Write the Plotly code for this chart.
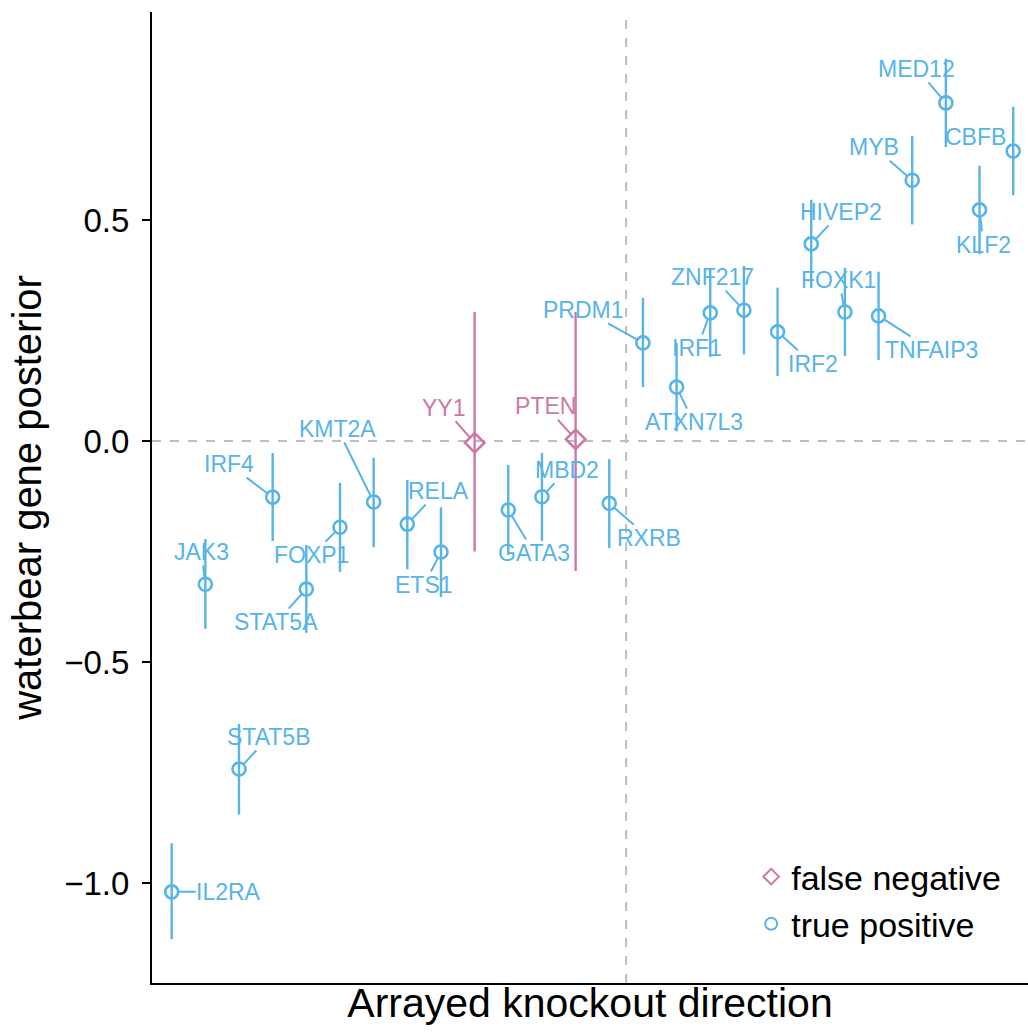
import plotly.graph_objects as go

# Genes in arrayed-knockout order, with posterior means and interval bounds
genes = ["IL2RA", "JAK3", "STAT5B", "IRF4", "STAT5A", "FOXP1", "KMT2A", "RELA", "ETS1",
         "YY1", "GATA3", "MBD2", "PTEN", "RXRB", "PRDM1", "ATXN7L3", "IRF1", "ZNF217",
         "IRF2", "HIVEP2", "FOXK1", "TNFAIP3", "MYB", "MED12", "KLF2", "CBFB"]
posterior = [-1.02, -0.324, -0.742, -0.127, -0.335, -0.195, -0.138, -0.188, -0.251,
             -0.004, -0.156, -0.126, 0.004, -0.141, 0.222, 0.122, 0.290, 0.296,
             0.247, 0.446, 0.292, 0.283, 0.590, 0.765, 0.523, 0.656]
lower = [-1.127, -0.425, -0.845, -0.226, -0.434, -0.296, -0.240, -0.290, -0.353,
         -0.250, -0.258, -0.226, -0.294, -0.242, 0.122, 0.022, 0.190, 0.196,
         0.147, 0.346, 0.192, 0.183, 0.490, 0.665, 0.423, 0.556]
upper = [-0.910, -0.222, -0.640, -0.027, -0.235, -0.095, -0.038, -0.088, -0.150,
         0.292, -0.054, -0.027, 0.292, -0.041, 0.324, 0.222, 0.390, 0.396,
         0.347, 0.546, 0.392, 0.383, 0.690, 0.865, 0.623, 0.756]
status = ["true positive"] * 9 + ["false negative"] + ["true positive"] * 2 + \
         ["false negative"] + ["true positive"] * 13

# Label offsets (pixels, label centre relative to point) for repelled text
label_dx = [57, -4, 30, -44, -30, -28, -36, 31, -17, -31, 26, 25, -30, 40, -59, 17,
            -13, -31, 35, 30, -6, 53, -38, -29, 4, -38]
label_dy = [0, -32, -32, -33, 33, 28, -73, -33, 33, -35, 43, -27, -33, 35, -33, 35,
            35, -33, 32, -32, -32, 34, -33, -34, 35, -14]

colors = {"false negative": "#CC79A7", "true positive": "#56B4E9"}
symbols = {"false negative": "diamond-open", "true positive": "circle-open"}
sizes = {"false negative": 15, "true positive": 13}

xpos = list(range(1, len(genes) + 1))
FONT = "Liberation Sans, Arial, Helvetica, sans-serif"

fig = go.Figure()
for grp in ["false negative", "true positive"]:
    idx = [i for i, s in enumerate(status) if s == grp]
    fig.add_trace(go.Scatter(
        x=[xpos[i] for i in idx],
        y=[posterior[i] for i in idx],
        mode="markers",
        name=grp,
        marker=dict(symbol=symbols[grp], size=sizes[grp], color=colors[grp],
                    line=dict(width=2.6, color=colors[grp])),
        error_y=dict(type="data", symmetric=False,
                     array=[upper[i] - posterior[i] for i in idx],
                     arrayminus=[posterior[i] - lower[i] for i in idx],
                     width=0, thickness=2.4, color=colors[grp]),
        text=[genes[i] for i in idx],
        hoverinfo="text",
    ))

# Reference lines at zero posterior and at the knockout-direction split
fig.add_hline(y=0, line=dict(color="#BEBEBE", width=2, dash="dash"), layer="below")
fig.add_vline(x=14.5, line=dict(color="#BEBEBE", width=2, dash="dash"), layer="below")

for i, g in enumerate(genes):
    fig.add_annotation(
        x=xpos[i], y=posterior[i], text=g,
        ax=label_dx[i], ay=label_dy[i],
        showarrow=True, arrowhead=0, arrowwidth=2, arrowcolor=colors[status[i]],
        standoff=7, startstandoff=0,
        font=dict(family=FONT, size=23, color=colors[status[i]]),
        borderpad=0,
    )

fig.update_layout(
    width=1028, height=1036,
    margin=dict(l=152, r=0, t=12, b=53),
    paper_bgcolor="white", plot_bgcolor="white",
    font=dict(family=FONT, color="black"),
    showlegend=True,
    legend=dict(x=0.684, y=0.139, xanchor="left", yanchor="top",
                font=dict(family=FONT, size=34, color="black"),
                bgcolor="rgba(0,0,0,0)", itemsizing="constant", tracegroupgap=0),
    xaxis=dict(range=[0.415, 26.44], showticklabels=False, ticks="", showgrid=False,
               zeroline=False, showline=True, linecolor="black", linewidth=2,
               title=dict(text="Arrayed knockout direction",
                          font=dict(family=FONT, size=41, color="black"), standoff=4)),
    yaxis=dict(range=[-1.2262, 0.9706], tickvals=[-1.0, -0.5, 0.0, 0.5], tickformat=".1f",
               ticks="outside", ticklen=8, tickwidth=2, tickcolor="black",
               ticklabelstandoff=6,
               tickfont=dict(family=FONT, size=33, color="black"),
               showgrid=False, zeroline=False, showline=True, linecolor="black", linewidth=2,
               title=dict(text="waterbear gene posterior",
                          font=dict(family=FONT, size=40, color="black"), standoff=10)),
)

fig.write_html("out.html")
